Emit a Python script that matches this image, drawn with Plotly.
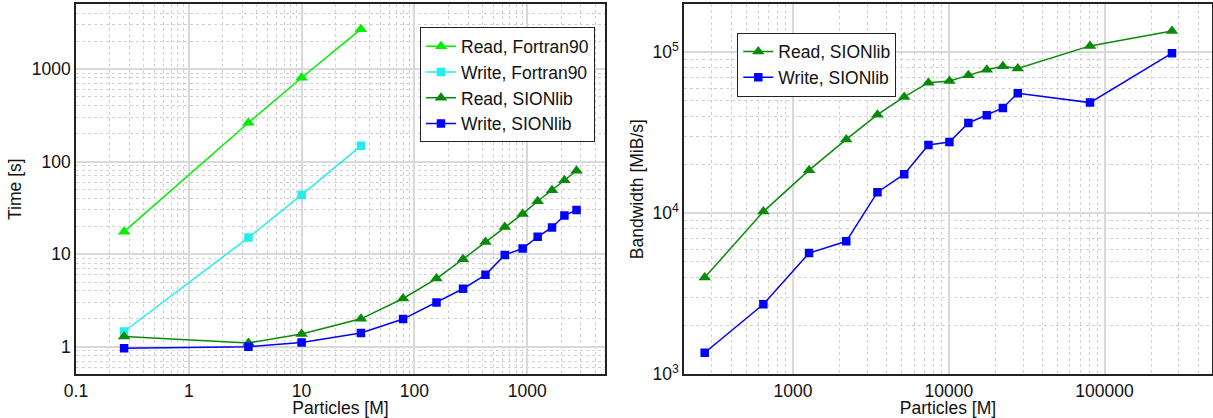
import plotly.graph_objects as go

# ---------------- data ----------------
# Left panel: time vs particles
particles_f90 = [0.267, 3.38, 10.0, 33.6]
read_f90 = [17.5, 263, 804, 2694]
write_f90 = [1.46, 15.1, 43.6, 148]

particles_sion = [0.267, 3.38, 10.0, 33.6, 79.4, 157, 270, 427, 633, 912, 1239, 1660, 2138, 2740]
read_sion = [1.29, 1.10, 1.37, 2.0, 3.32, 5.45, 8.83, 13.5, 19.7, 27.2, 37.3, 49.0, 62.8, 79.6]
write_sion = [0.96, 1.0, 1.11, 1.41, 1.99, 3.0, 4.23, 5.98, 9.8, 11.5, 15.4, 19.4, 26.1, 30.0]

# Right panel: bandwidth vs particles
particles_bw = [271, 645, 1268, 2197, 3483, 5176, 7400, 10100, 13360, 17540, 22250, 27740, 80700, 271000]
read_bw = [3992, 10250, 18530, 28770, 41000, 52800, 64800, 66300, 71900, 77800, 82000, 79400, 109600, 135700]
write_bw = [1361, 2724, 5660, 6700, 13520, 17500, 26550, 27700, 36400, 40600, 45100, 55700, 48700, 98700]

left_xticks = [0.1, 1, 10, 100, 1000]
left_xticktext = ["0.1", "1", "10", "100", "1000"]
left_yticks = [1, 10, 100, 1000]
left_yticktext = ["1", "10", "100", "1000"]
right_xticks = [1000, 10000, 100000]
right_xticktext = ["1000", "10000", "100000"]
right_yticks = [1000, 10000, 100000]
right_yticktext = ["10<sup>3</sup>", "10<sup>4</sup>", "10<sup>5</sup>"]

# ---------------- style ----------------
FONT = "Liberation Sans"
FS = 17.5
C_LGREEN = "#00ee00"
C_CYAN = "#22eeee"
C_GREEN = "#0a8a0a"
C_BLUE = "#0000ff"
TXT = "#111111"

W, H = 1213, 418

fig = go.Figure()

def add(x, y, name, color, symbol, xa, ya, legend, size):
    fig.add_trace(go.Scatter(
        x=x, y=y, name=name, mode="lines+markers",
        line=dict(color=color, width=1.5),
        marker=dict(color=color, symbol=symbol, size=size, line=dict(width=0)),
        xaxis=xa, yaxis=ya, legend=legend,
    ))

add(particles_f90, read_f90, "Read, Fortran90", C_LGREEN, "triangle-up", "x", "y", "legend", 11)
add(particles_f90, write_f90, "Write, Fortran90", C_CYAN, "square", "x", "y", "legend", 8.5)
add(particles_sion, read_sion, "Read, SIONlib", C_GREEN, "triangle-up", "x", "y", "legend", 11)
add(particles_sion, write_sion, "Write, SIONlib", C_BLUE, "square", "x", "y", "legend", 8.5)

add(particles_bw, read_bw, "Read, SIONlib", C_GREEN, "triangle-up", "x2", "y2", "legend2", 11)
add(particles_bw, write_bw, "Write, SIONlib", C_BLUE, "square", "x2", "y2", "legend2", 8.5)

def px_x(p):
    return p / W

def px_y(p):
    return 1 - p / H

grid_major = "#d9d9d9"
grid_minor = "#d2d2d2"

def axis(domain, rng, tickvals, ticktext, title, anchor, standoff, title_size=FS):
    return dict(
        type="log", domain=domain, range=rng, anchor=anchor,
        tickvals=tickvals, ticktext=ticktext, ticks="",
        showgrid=True, gridcolor=grid_major, gridwidth=1.5,
        minor=dict(dtick="D1", showgrid=True, gridcolor=grid_minor, griddash="dot", gridwidth=1, ticks=""),
        showline=True, mirror=True, linecolor="#222222", linewidth=1.5,
        zeroline=False, automargin=False,
        tickfont=dict(family=FONT, size=FS, color=TXT),
        title=dict(text=title, font=dict(family=FONT, size=title_size, color=TXT), standoff=standoff),
    )

ydom = [px_y(374.3), px_y(4)]

legend_style = dict(
    xanchor="left", yanchor="top",
    bgcolor="white", bordercolor="#222222", borderwidth=1,
    font=dict(family=FONT, size=FS, color=TXT),
    tracegroupgap=0, itemwidth=30,
)

fig.update_layout(
    width=W, height=H,
    margin=dict(l=0, r=0, t=0, b=0),
    paper_bgcolor="white", plot_bgcolor="white",
    font=dict(family=FONT, size=FS, color=TXT),
    xaxis=axis([px_x(76), px_x(605)], [-1, 3.69], left_xticks, left_xticktext, "Particles [M]", "y", 1),
    yaxis=axis(ydom, [-0.298, 3.702], left_yticks, left_yticktext, "Time [s]", "x", 6),
    xaxis2=axis([px_x(684), px_x(1212)], [2.30, 5.69], right_xticks, right_xticktext, "Particles [M]", "y2", 1),
    yaxis2=axis(ydom, [3.0, 5.30], right_yticks, right_yticktext, "Bandwidth [MiB/s]", "x2", 4),
    legend=dict(x=px_x(420), y=px_y(27.3), **legend_style),
    legend2=dict(x=px_x(737.3), y=px_y(32.7), **legend_style),
)

fig.write_html(
    "out.html",
    config={"displayModeBar": False},
    post_script="document.body.style.margin='0';document.body.style.overflow='hidden';",
)
